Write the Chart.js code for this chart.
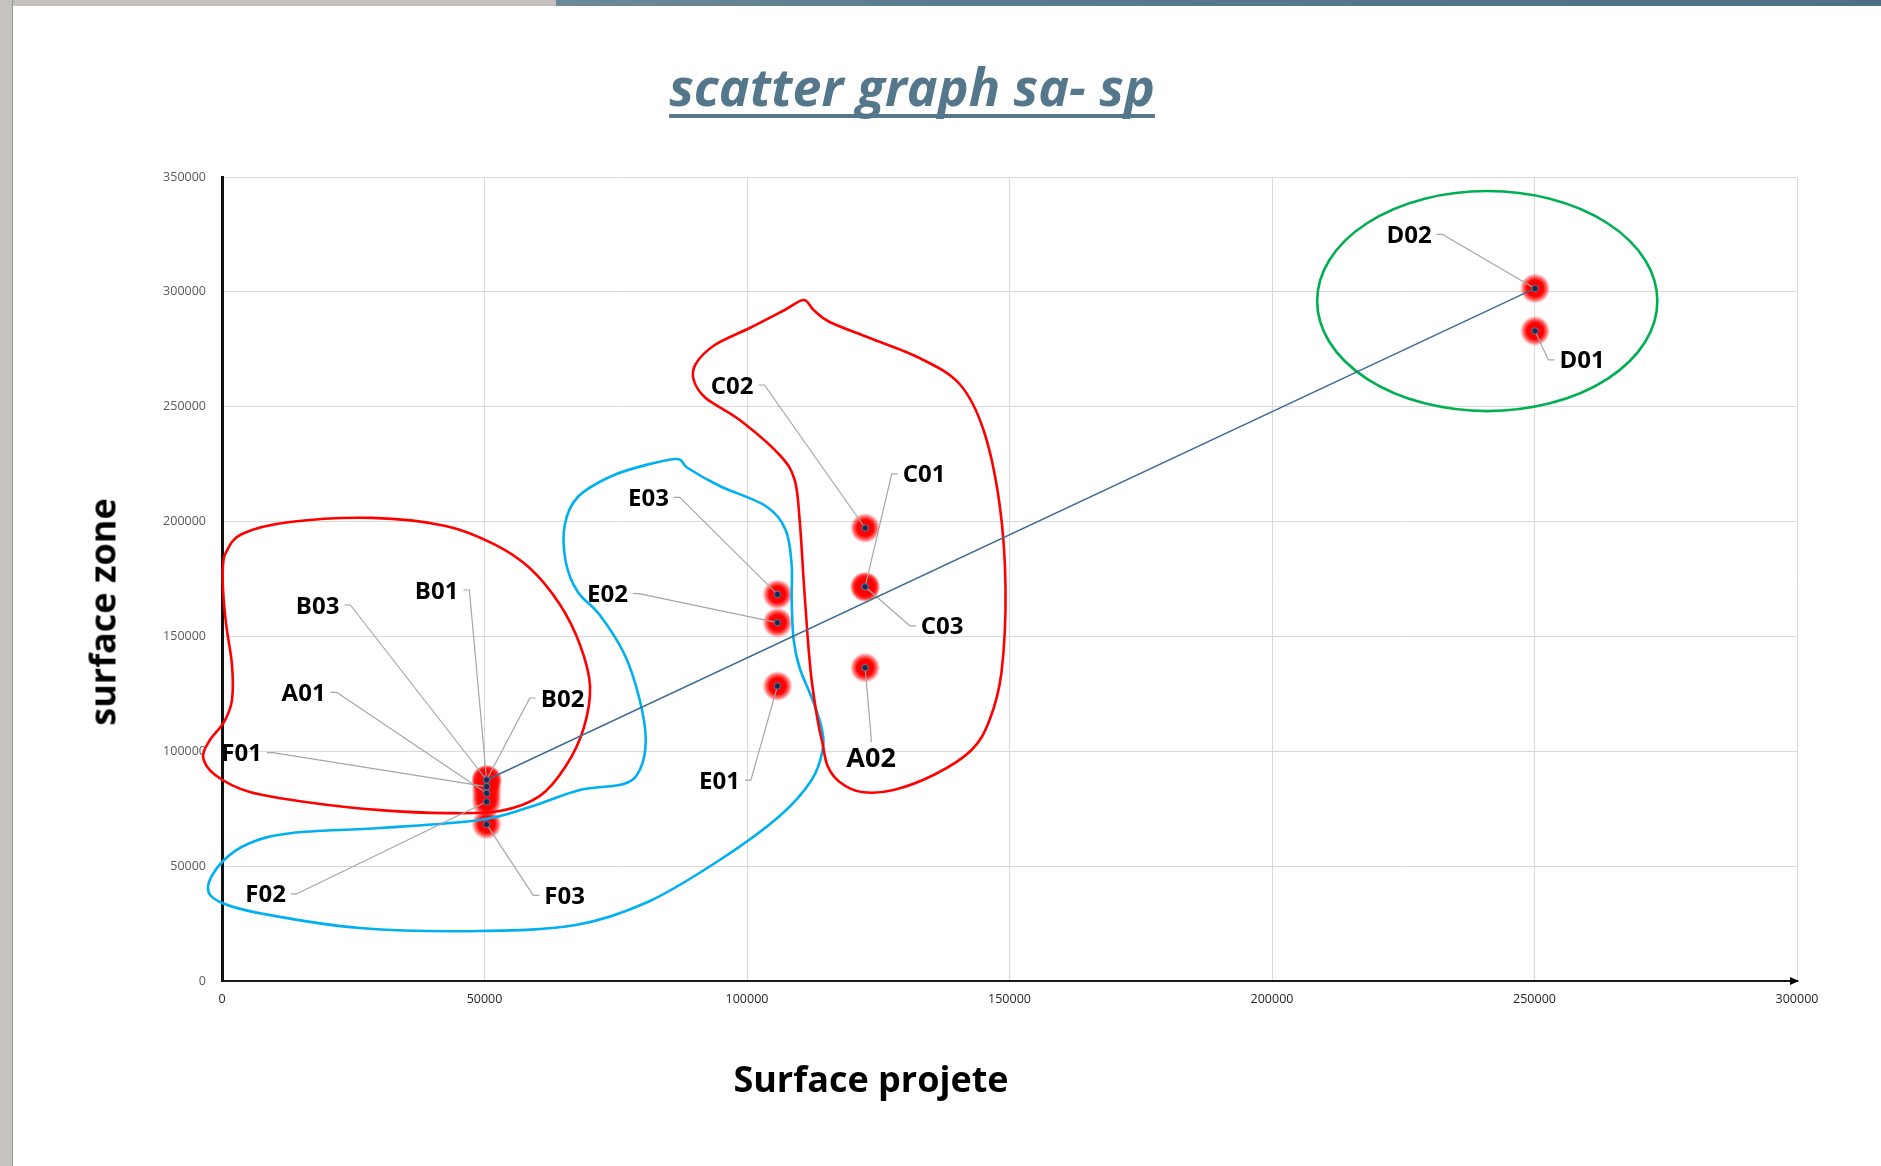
<!DOCTYPE html>
<html><head><meta charset="utf-8">
<script src="https://cdn.jsdelivr.net/npm/chart.js@4.4.1/dist/chart.umd.min.js"></script>
<style>
html,body{margin:0;padding:0;background:#fff;}
#wrap{position:relative;width:1881px;height:1166px;overflow:hidden;background:#fff;font-family:'Open Sans',sans-serif;}
#c{position:absolute;left:0;top:0;}
#topL{position:absolute;left:0;top:0;width:556px;height:6px;background:#c3bfbb;}
#topR{position:absolute;left:556px;top:0;right:0;height:6px;background:linear-gradient(90deg,#6d8a9a,#5a7a8f 30%,#4f6f86);}
#left{position:absolute;left:0;top:0;width:12px;height:1166px;background:#c6c2be;border-right:1px solid #9a9896;}
#title{position:absolute;left:912px;top:50px;transform:translateX(-50%);font:italic 700 52px/71px 'Open Sans';color:#55778b;text-decoration:underline;text-decoration-thickness:4px;text-underline-offset:8px;text-decoration-skip-ink:none;white-space:nowrap;}
.axt{position:absolute;font:700 36px/49px 'Open Sans';color:#000;white-space:nowrap;transform:translate(-50%,-50%);}
#xt{left:871px;top:1078px;}
#yt{left:102px;top:612px;transform:translate(-50%,-50%) rotate(-90deg);}
</style></head>
<body>
<div id="wrap">
  <canvas id="c" width="1881" height="1166"></canvas>
  <div id="topL"></div><div id="topR"></div><div id="left"></div>
  <div id="title">scatter graph sa- sp</div>
  <div class="axt" id="xt">Surface projete</div>
  <div class="axt" id="yt">surface zone</div>
</div>
<script>
// ---------- DATA ----------
const pointNames     = ['A01','A02','B01','B02','B03','C01','C02','C03','D01','D02','E01','E02','E03','F01','F02','F03'];
const surfaceProjete = [50400,122500,50400,50400,50400,122500,122500,122500,250100,250100,105800,105800,105800,50400,50400,50400];
const surfaceZone    = [81700,136400,87500,87500,87500,171600,197200,171600,283000,301500,128400,156000,168300,84600,78000,68200];
const trendX = [50400, 250100];
const trendY = [87500, 301500];
const xTickLabels = ['0','50000','100000','150000','200000','250000','300000'];
const yTickLabels = ['0','50000','100000','150000','200000','250000','300000','350000'];

// hand-drawn zone outlines (data units: [surface projete, surface zone])
const zoneRedAB = [[800,186800],[3800,194600],[12900,199800],[28600,201600],[42600,198100],[51800,190200],[58600,179800],[64300,164100],[68200,146300],[70100,128400],[68900,110100],[65500,93600],[60500,80500],[52900,74000],[42800,73100],[30100,74400],[17300,77500],[5300,82300],[-1300,89700],[-3600,97500],[-2300,104900],[400,112800],[1900,122300],[1900,137600],[800,155000],[200,170200],[200,181100]];
const zoneBlueEF = [[-2670,40920],[0,51800],[5330,60070],[13330,64430],[30080,66600],[49110,70090],[58630,75750],[68150,83150],[76520,85760],[79570,91850],[80710,104910],[79570,122320],[76720,141910],[71960,159330],[67770,169340],[65480,182400],[65290,198510],[67770,210690],[74240,219840],[81470,225060],[86800,227240],[88710,223320],[94800,215480],[103560,206780],[107360,196330],[108510,181090],[108510,165860],[108890,148440],[110030,136250],[112500,122320],[114220,110140],[114410,100560],[112310,87500],[106220,71830],[94800,52670],[81090,34390],[67390,24380],[49110,21770],[26270,23070],[8000,29170],[-380,34390]];
const zoneRedCA = [[110790,296450],[112690,292100],[115740,286880],[123350,279910],[132870,271200],[140490,259890],[145050,239860],[148100,207650],[149240,171080],[148480,134510],[146200,113620],[142770,100560],[135920,90110],[127920,83150],[121830,82280],[117640,86630],[115360,93590],[114410,103170],[113450,113620],[112310,131030],[111550,149750],[110790,174560],[110030,200680],[109080,218100],[106220,228980],[98610,244210],[92130,253790],[89850,261630],[90230,268590],[93850,276860],[100510,284260],[107170,292100]];
const zoneGreenD = {cx:241000, cy:296000, rx:32400, ry:47900};

// label layout: pixel offset of label centre from its point, and leader side
const labelLayout = {
  A01:{dx:-183,dy:-101,side:'r'}, A02:{dx:6,dy:90,side:'t',big:true},
  B01:{dx:-50,dy:-190,side:'r'}, B02:{dx:76,dy:-82,side:'l'}, B03:{dx:-169,dy:-175,side:'r'},
  C01:{dx:59,dy:-113,side:'l'}, C02:{dx:-133,dy:-143,side:'r'}, C03:{dx:77,dy:39,side:'l'},
  D01:{dx:47,dy:29,side:'l'}, D02:{dx:-126,dy:-54,side:'r'},
  E01:{dx:-58,dy:94,side:'r'}, E02:{dx:-170,dy:-29,side:'r'}, E03:{dx:-129,dy:-97,side:'r'},
  F01:{dx:-245,dy:-34,side:'r'}, F02:{dx:-221,dy:92,side:'r'}, F03:{dx:78,dy:71,side:'l'}
};

// ---------- RENDER ----------
Chart.defaults.font.family = "'Open Sans', sans-serif";

function makeGlow(){
  const s = 30, c = document.createElement('canvas'); c.width = c.height = s;
  const g = c.getContext('2d');
  const grd = g.createRadialGradient(s/2,s/2,0,s/2,s/2,s/2);
  grd.addColorStop(0,'rgba(255,0,0,1)');
  grd.addColorStop(0.55,'rgba(255,0,0,1)');
  grd.addColorStop(0.8,'rgba(255,10,10,0.55)');
  grd.addColorStop(1,'rgba(255,30,30,0)');
  g.fillStyle = grd; g.fillRect(0,0,s,s);
  return c;
}
const glow = makeGlow();

const pts = pointNames.map((n,i)=>({x:surfaceProjete[i], y:surfaceZone[i], name:n}));
const trend = trendX.map((v,i)=>({x:v, y:trendY[i]}));

function splinePath(ctx, p){
  const n = p.length;
  ctx.beginPath();
  ctx.moveTo(p[0][0], p[0][1]);
  for (let i=0;i<n;i++){
    const p0=p[(i-1+n)%n], p1=p[i], p2=p[(i+1)%n], p3=p[(i+2)%n];
    ctx.bezierCurveTo(p1[0]+(p2[0]-p0[0])/6, p1[1]+(p2[1]-p0[1])/6,
                      p2[0]-(p3[0]-p1[0])/6, p2[1]-(p3[1]-p1[1])/6, p2[0], p2[1]);
  }
  ctx.closePath();
}

function labelBox(ctx, chart, i){
  const {x, y} = chart.scales;
  const n = pointNames[i], L = labelLayout[n];
  const fs = L.big ? 27 : 24;
  ctx.font = `bold ${fs}px 'Open Sans'`;
  const w = ctx.measureText(n).width;
  const px = x.getPixelForValue(surfaceProjete[i]), py = y.getPixelForValue(surfaceZone[i]);
  const cx = px + L.dx, cy = py + L.dy;
  return {n, L, fs, w, px, py, cx, cy, h: fs*0.714};
}

const zonesPlugin = {
  id:'zones',
  afterDatasetDraw(chart, args){
    if (args.index !== 2) return;
    const {ctx, scales:{x, y}} = chart;
    const toPx = arr => arr.map(p=>[x.getPixelForValue(p[0]), y.getPixelForValue(p[1])]);
    ctx.save();
    ctx.lineWidth = 2.6; ctx.lineJoin='round';
    ctx.strokeStyle = '#ff0000'; splinePath(ctx, toPx(zoneRedAB)); ctx.stroke();
    ctx.strokeStyle = '#00b0f0'; splinePath(ctx, toPx(zoneBlueEF)); ctx.stroke();
    ctx.strokeStyle = '#ff0000'; splinePath(ctx, toPx(zoneRedCA)); ctx.stroke();
    const g = zoneGreenD;
    const gcx = x.getPixelForValue(g.cx), gcy = y.getPixelForValue(g.cy);
    const grx = Math.abs(x.getPixelForValue(g.cx+g.rx)-gcx), gry = Math.abs(y.getPixelForValue(g.cy+g.ry)-gcy);
    ctx.strokeStyle = '#00b050'; ctx.beginPath(); ctx.ellipse(gcx,gcy,grx,gry,0,0,Math.PI*2); ctx.stroke();
    // leader lines
    ctx.strokeStyle = '#a6a6a6'; ctx.lineWidth = 1.2;
    pointNames.forEach((n,i)=>{
      const b = labelBox(ctx, chart, i);
      let sx, sy, kx, ky;
      if (b.L.side==='r'){ sx=b.cx+b.w/2+5; sy=b.cy; kx=sx+6; ky=sy; }
      else if (b.L.side==='l'){ sx=b.cx-b.w/2-5; sy=b.cy; kx=sx-6; ky=sy; }
      else { sx=b.cx; sy=b.cy-b.h/2-6; kx=sx; ky=sy-5; }
      ctx.beginPath(); ctx.moveTo(sx,sy); ctx.lineTo(kx,ky); ctx.lineTo(b.px,b.py); ctx.stroke();
    });
    ctx.restore();
  },
  afterDatasetsDraw(chart){
    const {ctx} = chart;
    ctx.save();
    ctx.fillStyle = '#000'; ctx.textAlign='center'; ctx.textBaseline='alphabetic';
    pointNames.forEach((n,i)=>{
      const b = labelBox(ctx, chart, i);
      ctx.fillText(n, b.cx, b.cy + b.h/2);
    });
    ctx.restore();
  },
  afterDraw(chart){
    const {ctx, chartArea:a} = chart;
    ctx.save(); ctx.fillStyle='#000';
    ctx.beginPath(); ctx.moveTo(a.right+2, a.bottom); ctx.lineTo(a.right-7, a.bottom-4); ctx.lineTo(a.right-7, a.bottom+4); ctx.closePath(); ctx.fill();
    ctx.restore();
  }
};

new Chart(document.getElementById('c'), {
  type:'scatter',
  data:{ datasets:[
    {label:'points', data:pts, pointRadius:3.2, pointHoverRadius:3.2, backgroundColor:'#1c2b47', borderColor:'#5a7aa8', borderWidth:1},
    {label:'trend', type:'line', data:trend, showLine:true, borderColor:'#3d6b96', borderWidth:1.4, pointRadius:0, fill:false, tension:0},
    {label:'glow', data:pts, pointStyle:glow, pointRadius:15, pointHoverRadius:15}
  ]},
  options:{
    responsive:false, animation:false, devicePixelRatio:1,
    layout:{padding:{top:177, right:84, bottom:0, left:0}},
    plugins:{legend:{display:false}, tooltip:{enabled:false}, title:{display:false}},
    scales:{
      x:{type:'linear', min:0, max:300000,
         ticks:{stepSize:50000, padding:11, color:'#262626', font:{size:12.5}, callback:(v,i)=>xTickLabels[i]},
         grid:{color:'#d9d9d9', lineWidth:1, drawTicks:false},
         border:{display:true, color:'#1a1a1a', width:2},
         afterFit:s=>{s.height=185;}},
      y:{type:'linear', min:0, max:350000,
         ticks:{stepSize:50000, padding:16, color:'#595959', font:{size:12.5}, callback:(v,i)=>yTickLabels[i]},
         grid:{color:'#d9d9d9', lineWidth:1, drawTicks:false},
         border:{display:true, color:'#111', width:3},
         afterFit:s=>{s.width=222;}}
    }
  },
  plugins:[zonesPlugin]
});
</script>
</body></html>
